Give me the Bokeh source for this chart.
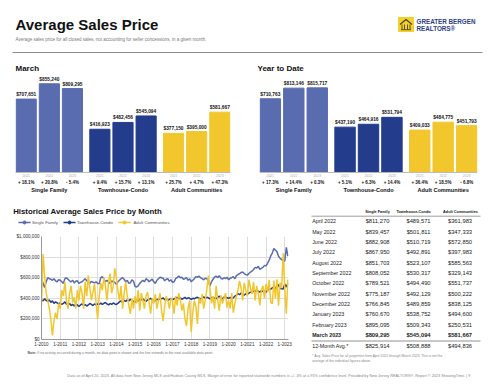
from bokeh.plotting import figure
from bokeh.models import (FactorRange, Range1d, ColumnDataSource, Span,
                          FixedTicker, NumeralTickFormatter)
from bokeh.layouts import column, row
from bokeh.embed import file_html
from bokeh.resources import INLINE
from bokeh.core.properties import value

FONT = "Liberation Sans"
SF_C, TC_C, AC_C = "#5A6CB0", "#233C8C", "#F2C72E"

# ---------------- data ----------------
TITLE = "Average Sales Price"
SUBTITLE = "Average sales price for all closed sales, not accounting for seller concessions, in a given month."
groups = ["Single Family", "Townhouse-Condo", "Adult Communities"]
years = ["2021", "2022", "2023"]

march_sf = [707651, 855240, 809295]
march_tc = [416923, 482456, 545094]
march_ac = [377150, 395000, 581667]
march_pct_sf = ["+ 18.1%", "+ 20.8%", "- 5.4%"]
march_pct_tc = ["+ 9.4%", "+ 15.7%", "+ 13.1%"]
march_pct_ac = ["+ 25.7%", "+ 4.7%", "+ 47.3%"]

ytd_sf = [710763, 813146, 815717]
ytd_tc = [437190, 464916, 531794]
ytd_ac = [409033, 484775, 451793]
ytd_pct_sf = ["+ 17.3%", "+ 14.4%", "+ 0.3%"]
ytd_pct_tc = ["+ 5.1%", "+ 6.3%", "+ 14.4%"]
ytd_pct_ac = ["+ 36.4%", "+ 18.5%", "- 6.8%"]

# table: April 2022 .. March 2023
tbl_months = ["April 2022", "May 2022", "June 2022", "July 2022", "August 2022",
              "September 2022", "October 2022", "November 2022", "December 2022",
              "January 2023", "February 2023", "March 2023"]
tbl_sf = [811270, 839457, 882908, 867950, 851703, 808052, 789521, 775187, 766845, 760670, 895095, 809295]
tbl_tc = [489571, 501811, 510719, 492891, 523107, 530317, 494490, 492129, 489859, 538752, 509343, 545094]
tbl_ac = [361983, 347333, 572850, 397983, 585563, 329143, 551737, 500222, 838125, 494600, 250531, 581667]
tbl_avg = [825914, 508888, 494836]

# monthly history Jan 2010 .. Mar 2022 (in $ thousands)
sf_hist_k = [
    600, 545, 505, 560, 600, 590, 585, 575, 590, 570, 560, 580,
    575, 560, 545, 590, 600, 585, 570, 560, 575, 550, 565, 570,
    545, 555, 560, 575, 590, 570, 560, 545, 565, 555, 550, 560,
    545, 540, 600, 610, 590, 560, 575, 560, 545, 570, 560, 555,
    535, 560, 575, 590, 600, 585, 560, 575, 545, 550, 580, 565,
    515, 510, 520, 545, 560, 575, 560, 590, 580, 560, 575, 585,
    560, 545, 575, 590, 605, 600, 595, 570, 585, 590, 565, 580,
    555, 560, 590, 600, 615, 600, 605, 585, 590, 600, 575, 590,
    560, 575, 590, 610, 605, 615, 600, 590, 580, 595, 590, 575,
    520, 560, 585, 605, 615, 600, 620, 595, 585, 600, 590, 605,
    580, 595, 600, 610, 590, 620, 630, 640, 650, 655, 640, 630,
    625, 640, 655, 665, 680, 700, 695, 710, 680, 690, 700, 720,
    715, 740, 770]
tc_hist_k = [
    385, 375, 395, 380, 370, 385, 360, 375, 350, 365, 355, 345,
    355, 340, 350, 365, 345, 335, 350, 330, 340, 325, 345, 335,
    320, 335, 345, 330, 340, 325, 335, 350, 340, 330, 345, 335,
    345, 340, 355, 340, 350, 360, 345, 335, 350, 340, 355, 345,
    340, 350, 365, 375, 360, 380, 370, 385, 375, 390, 380, 370,
    365, 380, 375, 390, 385, 395, 380, 370, 385, 390, 400, 385,
    380, 375, 390, 385, 400, 395, 405, 385, 395, 380, 390, 400,
    385, 395, 400, 410, 395, 405, 390, 400, 410, 395, 405, 400,
    390, 400, 395, 405, 410, 400, 395, 405, 415, 400, 410, 405,
    395, 405, 410, 400, 395, 410, 420, 405, 395, 410, 415, 405,
    400, 410, 395, 405, 420, 430, 445, 435, 450, 440, 430, 445,
    440, 450, 460, 455, 470, 465, 480, 470, 460, 475, 465, 470,
    460, 480, 490]
ac_hist_k = [
    330, 830, 620, 450, 380, 300, 200, 40, 180, 260, 200, 350,
    300, 480, 420, 560, 380, 300, 450, 520, 360, 410, 300, 480,
    380, 520, 450, 300, 560, 420, 620, 500, 380, 460, 540, 350,
    200, 420, 550, 480, 600, 520, 380, 560, 640, 450, 520, 690,
    600, 470, 380, 520, 300, 450, 560, 420, 330, 250, 400, 300,
    420, 350, 480, 280, 450, 380, 300, 420, 460, 360, 250, 400,
    350, 440, 300, 380, 450, 280, 180, 330, 420, 380, 300, 400,
    380, 250, 420, 330, 450, 390, 280, 350, 200, 130, 300, 380,
    70, 260, 380, 320, 150, 400, 350, 440, 300, 380, 480, 620,
    500, 350, 420, 300, 520, 380, 280, 430, 350, 400, 450, 310,
    380, 300, 450, 260, 350, 420, 480, 570, 500, 380, 550, 480,
    420, 580, 500, 440, 560, 380, 520, 450, 330, 480, 520, 400,
    540, 460, 580]

y_ticks = [0, 200000, 400000, 600000, 800000, 1000000]
x_years = list(range(2010, 2024))

FOOTER = ("Data as of April 20, 2023. All data from New Jersey MLS and Hudson County MLS. Margin of error for "
          "reported statewide numbers is +/- 4% at a 95% confidence level. Provided by New Jersey REALTORS\u00ae. "
          "Report \u00a9 2023 ShowingTime. | 9")
NOTE = "If no activity occurred during a month, no data point is shown and the line extends to the next available data point."
FOOT1 = "* Avg. Sales Price for all properties from April 2022 through March 2023. This is not the"
FOOT2 = "average of the individual figures above."


def blank(x0, x1, y0, y1):
    """Decoration canvas whose data coordinates equal page pixels."""
    f = figure(width=x1 - x0, height=y1 - y0, x_range=Range1d(x0, x1),
               y_range=Range1d(y1, y0), output_backend="svg", toolbar_location=None,
               min_border=0, x_axis_location=None, y_axis_location=None)
    f.grid.visible = False
    f.outline_line_color = None
    return f


def txt(f, x, y, t, size, color="#111", bold=False, align="left", baseline="middle"):
    f.text(x=[x], y=[y], text=[t], text_font=value(FONT), text_font_size=size,
           text_font_style="bold" if bold else "normal", text_color=color,
           text_align=align, text_baseline=baseline)


# ---------------- header (page y 0-56) ----------------
hdr = blank(0, 500, 0, 56)
txt(hdr, 15, 24, TITLE, "15px", "#111", True)
txt(hdr, 15, 39, SUBTITLE, "4.5px", "#777")
hdr.quad(left=[398], right=[413], top=[17], bottom=[31], color="#F3D12B")
hdr.line(x=[399.5, 405.5, 411.5], y=[24, 19, 24], color="#4a4020", line_width=1.2)
hdr.multi_line(xs=[[401.5, 401.5], [404, 404], [407, 407], [409.5, 409.5], [400.5, 410.5]],
               ys=[[24, 29], [24, 29], [24, 29], [24, 29], [29.2, 29.2]], color="#4a4020", line_width=0.9)
txt(hdr, 416, 20.5, "GREATER BERGEN", "6.3px", "#2B3E86", True)
txt(hdr, 416, 28, "REALTORS\u00ae", "6.3px", "#2B3E86", True)
hdr.line(x=[12, 482], y=[52, 52], color="#8c8c8c", line_width=1)


# ---------------- bar charts (page y 56-200) ----------------
def bar_fig(title, sf, tc, ac, psf, ptc, pac, width, bl, br, toff):
    factors, vals, colors, yrs, pcts = [], [], [], [], []
    mids = []
    for g, vs, ps, c in zip(groups, [sf, tc, ac], [psf, ptc, pac], [SF_C, TC_C, AC_C]):
        for yr, v, pc in zip(years, vs, ps):
            factors.append((g, pc, yr))
            vals.append(v)
            colors.append(c)
            yrs.append(yr)
            pcts.append(pc)
        mids.append((g, ps[1], years[1]))
    src = ColumnDataSource(dict(x=factors, top=vals, color=colors, yr=yrs, pct=pcts,
                                zero=[0] * len(vals), label=[f"${v:,}" for v in vals]))
    gsrc = ColumnDataSource(dict(x=mids, zero=[0] * 3, g=groups))
    p = figure(width=width, height=144,
               x_range=FactorRange(*factors, subgroup_padding=0.08, group_padding=0.28),
               y_range=Range1d(-231400, 935000), output_backend="svg", toolbar_location=None,
               min_border_left=bl, min_border_right=br, min_border_top=19, min_border_bottom=4,
               x_axis_location=None, y_axis_location=None)
    p.vbar(x="x", top="top", bottom=0, width=0.94, color="color", source=src)
    p.add_layout(Span(location=0, dimension="width", line_color="#bbbbbb", line_width=1))
    p.text(x="x", y="top", text="label", text_font=value(FONT), text_font_style="bold",
           text_font_size="4.8px", text_align="center", text_baseline="bottom", y_offset=-2,
           text_color="#111", source=src)
    p.text(x="x", y="zero", text="yr", text_font=value(FONT), text_font_size="3.4px",
           text_align="center", text_baseline="middle", y_offset=3, text_color="#aaaaaa", source=src)
    p.text(x="x", y="zero", text="pct", text_font=value(FONT), text_font_style="bold",
           text_font_size="4.5px", text_align="center", text_baseline="middle", y_offset=9.7,
           text_color="#111", source=src)
    p.text(x="x", y="zero", text="g", text_font=value(FONT), text_font_style="bold",
           text_font_size="5.6px", text_align="center", text_baseline="middle", y_offset=18,
           text_color="#111", source=gsrc)
    p.grid.visible = False
    p.outline_line_color = None
    p.title.text = title
    p.title.text_font = FONT
    p.title.text_font_size = "8px"
    p.title.text_font_style = "bold"
    p.title.text_color = "#111"
    p.title.align = "left"
    p.title.standoff = 6
    p.title.offset = toff
    return p


mar = bar_fig("March", march_sf, march_tc, march_ac, march_pct_sf, march_pct_tc, march_pct_ac,
              250, 15, 20, 0)
ytd = bar_fig("Year to Date", ytd_sf, ytd_tc, ytd_ac, ytd_pct_sf, ytd_pct_tc, ytd_pct_ac,
              250, 9, 23, -2)

# ---------------- line chart (page x 0-300, y 200-363) ----------------
sf_all = [v * 1000 for v in sf_hist_k] + tbl_sf
tc_all = [v * 1000 for v in tc_hist_k] + tbl_tc
ac_all = [v * 1000 for v in ac_hist_k] + tbl_ac
xs = [2010 + i / 12 for i in range(len(sf_all))]

lt = blank(0, 300, 200, 230)
txt(lt, 12.7, 210.5, "Historical Average Sales Price by Month", "7.8px", "#111", True)
for (x0, tx), name, c in zip([(18, 31.5), (63, 76.5), (118, 133)], groups, [SF_C, TC_C, AC_C]):
    lt.line(x=[x0, x0 + 12], y=[222, 222], color=c, line_width=1.5)
    lt.scatter(x=[x0 + 6], y=[222], size=3, color=c)
    txt(lt, tx, 222, name, "4.3px", "#555")

lp = figure(width=300, height=119, x_range=Range1d(2010, 2023.2), y_range=Range1d(0, 1000000),
            output_backend="svg", toolbar_location=None,
            min_border_left=41, min_border_right=12, min_border_top=6, min_border_bottom=10)
lp.line(xs, sf_all, color=SF_C, line_width=1.5)
lp.line(xs, tc_all, color=TC_C, line_width=1.5)
lp.line(xs, ac_all, color=AC_C, line_width=1.5)

lp.yaxis.ticker = FixedTicker(ticks=y_ticks)
lp.yaxis.formatter = NumeralTickFormatter(format="$0,0")
lp.xaxis.ticker = FixedTicker(ticks=x_years)
lp.xaxis.major_label_overrides = {yr: f"1-{yr}" for yr in x_years}
for ax in (lp.xaxis[0], lp.yaxis[0]):
    ax.major_label_text_font = FONT
    ax.major_label_text_font_size = "4.6px"
    ax.major_label_text_color = "#333"
    ax.major_label_standoff = 2
    ax.major_tick_out = 0
    ax.major_tick_in = 0
    ax.minor_tick_out = 0
    ax.minor_tick_in = 0
    ax.axis_line_color = "#999"
lp.grid.grid_line_color = "#dddddd"
lp.outline_line_color = None

ln = blank(0, 300, 349, 363)
txt(ln, 27, 352.7, "Note:", "3.5px", "#555", True)
txt(ln, 36.8, 352.7, NOTE, "3.5px", "#777")

# ---------------- table (page x 300-500, y 200-363) ----------------
tb = blank(300, 500, 200, 363)
head_x = [377, 413, 460]
val_x = [377, 418, 459.5]
for hx, g in zip(head_x, groups):
    txt(tb, hx, 211.7, g, "3.8px", "#111", True, "center")
tb.line(x=[311, 480], y=[215.7, 215.7], color="#888", line_width=0.8)
for i, m in enumerate(tbl_months):
    yy = 220.7 + i * 10.35
    bold = (i == len(tbl_months) - 1)
    txt(tb, 311.7, yy, m, "5.3px", "#222", bold)
    for vx, col in zip(val_x, (tbl_sf, tbl_tc, tbl_ac)):
        txt(tb, vx, yy, f"${col[i]:,}", "5.8px", "#222", bold, "center")
tb.line(x=[311, 480], y=[340.5, 340.5], color="#777", line_width=0.8)
txt(tb, 311.7, 345.7, "12-Month Avg.*", "5.3px", "#222")
for vx, v in zip(val_x, tbl_avg):
    txt(tb, vx, 345.7, f"${v:,}", "5.8px", "#222", False, "center")
txt(tb, 311.7, 355, FOOT1, "3.4px", "#888")
txt(tb, 311.7, 360.3, FOOT2, "3.4px", "#888")

# ---------------- footer (page y 363-389) ----------------
ft = blank(0, 500, 363, 389)
txt(ft, 268.5, 375.5, FOOTER, "3.8px", "#888", False, "center")

layout = column(hdr, row(mar, ytd), row(column(row(lt), lp, row(ln)), tb), ft)
open("out.html", "w").write(file_html(layout, INLINE))
